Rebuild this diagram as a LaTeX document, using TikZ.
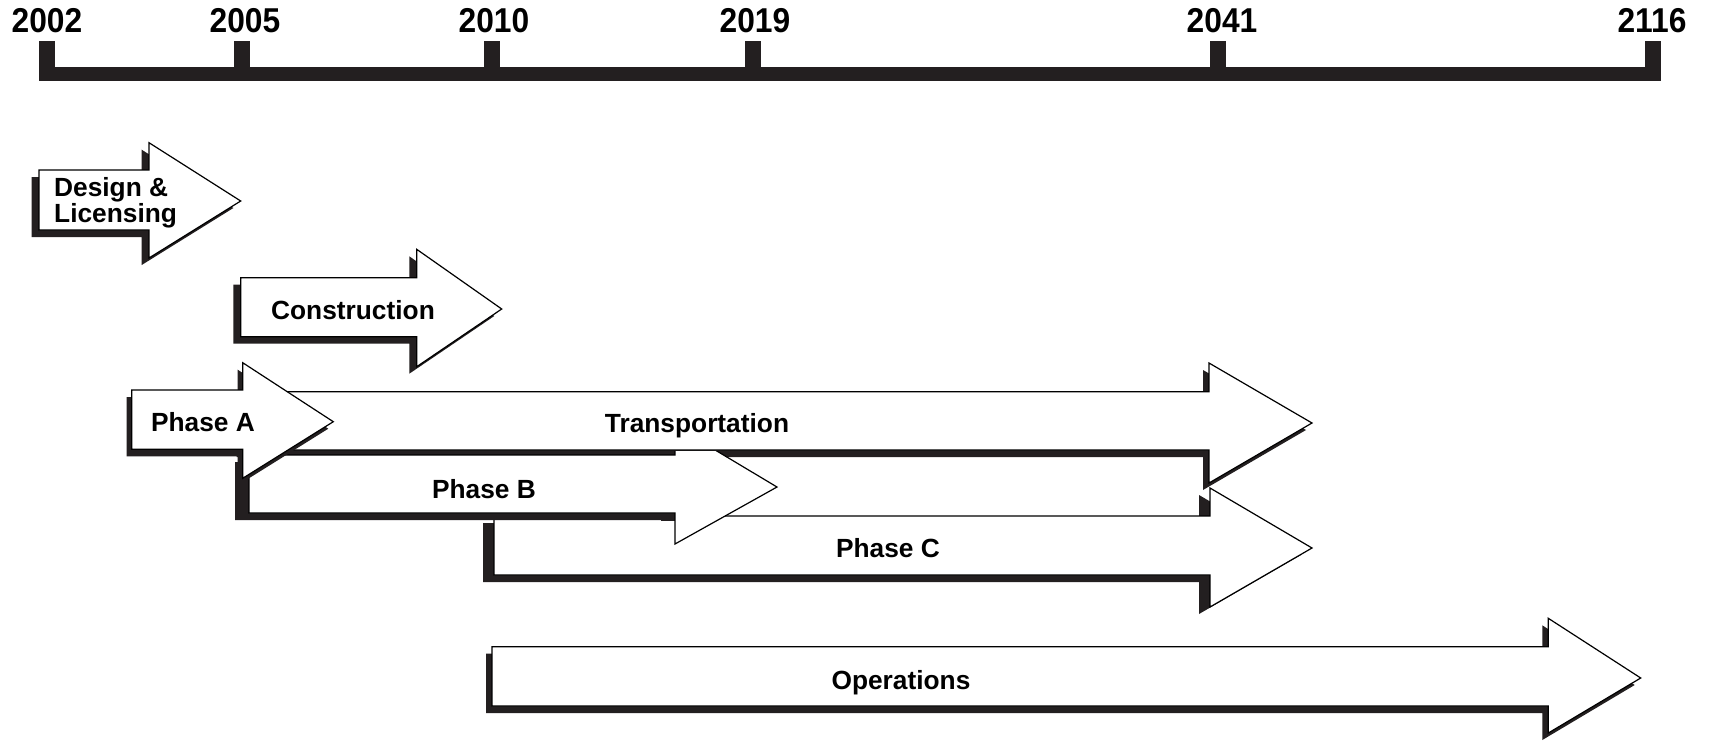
\documentclass[tikz,border=0pt]{standalone}
\usepackage{fontspec}
\setmainfont{Liberation Sans}
\newfontfamily\yearfont{Liberation Sans}[FakeStretch=0.92]
\definecolor{tlblack}{HTML}{231F20}
\tikzset{
  arrowbody/.style={fill=white, draw=black, line width=1.2pt, line join=miter},
  shadowfill/.style={fill=tlblack},
  yearlabel/.style={anchor=base, inner sep=0pt, font=\yearfont\bfseries\fontsize{34.5}{34.5}\selectfont},
  phaselabel/.style={anchor=base, inner sep=0pt, font=\bfseries\fontsize{26.3}{26.3}\selectfont},
}
% #1 L, #2 neck, #3 tip x, #4 body top, #5 body bottom, #6 head top, #7 head bottom, #8 tip y, #9 shadow dx
\newcommand\tlshadow[9]{\fill[shadowfill, shift={(#9,7)}] (#1,#4) -- (#2,#4) -- (#2,#6) -- (#3,#8) -- (#2,#7) -- (#2,#5) -- (#1,#5) -- cycle;}
\newcommand\tlbody[8]{\filldraw[arrowbody] (#1,#4) -- (#2,#4) -- (#2,#6) -- (#3,#8) -- (#2,#7) -- (#2,#5) -- (#1,#5) -- cycle;}
\begin{document}
\begin{tikzpicture}[x=1pt, y=-1pt]
\useasboundingbox[fill=white] (0,0) rectangle (1709,742);

% timeline
\fill[tlblack] (39,66.7) rectangle (1661,80.7);
\foreach \tx in {39,234,484,745,1210,1645}{
  \fill[tlblack] (\tx,41) rectangle (\tx+16,80.7);
}
\node[yearlabel] (y2002) at (47,32.3) {2002};
\node[yearlabel] (y2005) at (245,32.3) {2005};
\node[yearlabel] (y2010) at (494,32.3) {2010};
\node[yearlabel] (y2019) at (755,32.3) {2019};
\node[yearlabel] (y2041) at (1222,32.3) {2041};
\node[yearlabel] (y2116) at (1652,32.3) {2116};

% Design & Licensing
\tlshadow{39}{149}{240.7}{170}{230}{142.7}{258}{201}{-7.3}
\tlbody{39}{149}{240.7}{170}{230}{142.7}{258}{201}
% Construction
\tlshadow{240.7}{416.7}{501.7}{277.7}{336.7}{249.3}{366.7}{309}{-7.4}
\tlbody{240.7}{416.7}{501.7}{277.7}{336.7}{249.3}{366.7}{309}
% Transportation
\tlshadow{242.7}{1209}{1312}{391.7}{450}{363}{483}{423}{-6}
\tlbody{242.7}{1209}{1312}{391.7}{450}{363}{483}{423}
% Phase C
\tlshadow{494}{1210}{1312}{516}{575}{488}{607}{548}{-11}
\tlbody{494}{1210}{1312}{516}{575}{488}{607}{548}
% Phase B (head partly under the Transportation body)
\begin{scope}
  \clip (0,451) rectangle (1709,520.5);
  \tlshadow{249}{675}{777}{455}{513}{426}{544}{487}{-14}
\end{scope}
\begin{scope}
  \clip (0,451) rectangle (1709,742);
  \tlbody{249}{675}{777}{455}{513}{426}{544}{487}
\end{scope}
% Phase A
\tlshadow{131.7}{242.7}{333.3}{390}{449.3}{362.7}{478.3}{421.7}{-5}
\tlbody{131.7}{242.7}{333.3}{390}{449.3}{362.7}{478.3}{421.7}
% Operations
\tlshadow{492}{1548.3}{1640.7}{646.7}{706}{618.3}{733}{678}{-6}
\tlbody{492}{1548.3}{1640.7}{646.7}{706}{618.3}{733}{678}

% labels
\node[phaselabel, anchor=base west] (dl1) at (54,196.7) {Design \&};
\node[phaselabel, anchor=base west] (dl2) at (54,222.7) {Licensing};
\node[phaselabel] (cons) at (353,319) {Construction};
\node[phaselabel] (pa) at (203,431.7) {Phase A};
\node[phaselabel] (trans) at (697,432.3) {Transportation};
\node[phaselabel] (pb) at (484,498.3) {Phase B};
\node[phaselabel] (pc) at (888,557.3) {Phase C};
\node[phaselabel] (ops) at (901,689) {Operations};
\end{tikzpicture}
\end{document}
